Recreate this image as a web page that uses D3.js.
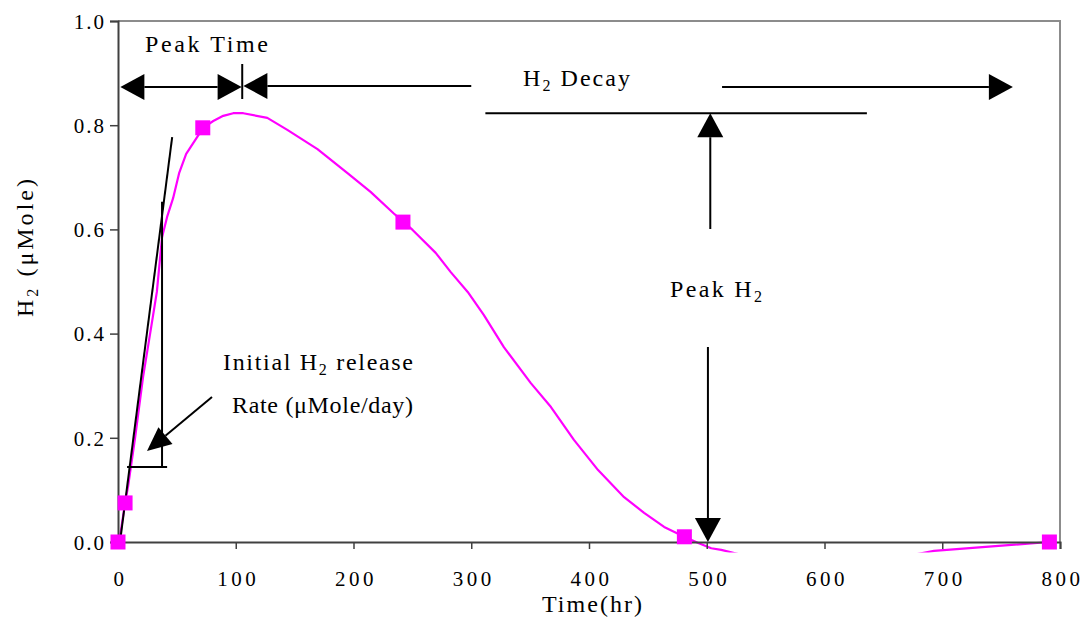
<!DOCTYPE html>
<html>
<head>
<meta charset="utf-8">
<script src="https://cdn.jsdelivr.net/npm/d3@7"></script>
<style>
  html, body { margin: 0; padding: 0; background: #ffffff; }
  svg { display: block; }
  text { font-family: "Liberation Serif", "Times New Roman", serif; fill: #000; }
</style>
</head>
<body>
<svg id="chart" width="1091" height="620"></svg>
<script>
// Hydrogen release curve: fitted smooth line (hours, µMole)
const curveHours = [0, 1.7, 6, 8.5, 14.5, 21.3, 28, 33, 37.4, 41.7, 46.8, 51.9, 57.9, 67.2, 72.3,
  80.9, 89.4, 97.9, 106.4, 126.8, 143.8, 169.4, 194.9, 214.5, 234, 242.6, 250.2, 269.8, 282.6,
  297, 310.6, 327.7, 350.6, 367.7, 387.2, 407.7, 429.8, 446.8, 463.8, 480.9, 492.8, 503.8, 512.3,
  530, 560, 600, 640, 670, 693, 745, 791];
const curveH2 = [0, 0.010, 0.075, 0.106, 0.200, 0.317, 0.41, 0.48, 0.585, 0.624, 0.660, 0.708, 0.745,
  0.777, 0.795, 0.808, 0.818, 0.823, 0.823, 0.814, 0.791, 0.754, 0.708, 0.672, 0.631, 0.614, 0.599,
  0.555, 0.518, 0.480, 0.436, 0.374, 0.305, 0.259, 0.196, 0.138, 0.086, 0.056, 0.029, 0.010, -0.002,
  -0.012, -0.015, -0.025, -0.035, -0.040, -0.037, -0.027, -0.017, -0.008, 0.0];

// Measured samples (square markers)
const sampleHours = [0, 6, 72, 242, 481, 791];
const sampleH2 = [0, 0.075, 0.795, 0.614, 0.010, 0.0];

// Axis ticks
const xTicks = [0, 100, 200, 300, 400, 500, 600, 700, 800];
const yTicks = [0.0, 0.2, 0.4, 0.6, 0.8, 1.0];

const svg = d3.select("#chart");
const x = d3.scaleLinear().domain([0, 800]).range([118, 1060]);
const y = d3.scaleLinear().domain([0, 1]).range([542, 21]);

const TICK_FS = 21;   // tick label font size
const FS = 24;        // annotation / title font size
const SUB_FS = 16;    // subscript size

// Plot frame: light top/right border
svg.append("path")
  .attr("d", `M${x(0)},${y(1)}H${x(800)}V${y(0)}`)
  .attr("fill", "none").attr("stroke", "#8c8c8c").attr("stroke-width", 2);

// Clip region for the curve (lets it dip a little below the axis)
svg.append("clipPath").attr("id", "plotClip")
  .append("rect")
  .attr("x", x(0) - 10).attr("y", y(1))
  .attr("width", x(800) - x(0) + 20).attr("height", y(-0.02) - y(1));

const curvePts = curveHours.map((h, i) => [h, curveH2[i]]);
const line = d3.line().x(d => x(d[0])).y(d => y(d[1]));
svg.append("path")
  .datum(curvePts)
  .attr("clip-path", "url(#plotClip)")
  .attr("d", line)
  .attr("fill", "none").attr("stroke", "#ff00ff").attr("stroke-width", 2.2)
  .attr("stroke-linejoin", "round");

// Axes
const xAxis = d3.axisBottom(x).tickValues(xTicks).tickSize(7).tickFormat(d3.format("d"));
const yAxis = d3.axisLeft(y).tickValues(yTicks).tickSize(8).tickFormat(d3.format(".1f"));

const gx = svg.append("g").attr("transform", `translate(0,${y(0)})`).call(xAxis);
const gy = svg.append("g").attr("transform", `translate(${x(0)},0)`).call(yAxis);
[gx, gy].forEach(g => {
  g.select(".domain").attr("stroke", "#404040").attr("stroke-width", 2);
  g.selectAll(".tick line").attr("stroke", "#404040").attr("stroke-width", 1.5);
  g.selectAll(".tick text")
    .attr("font-family", "Liberation Serif, Times New Roman, serif")
    .attr("font-size", TICK_FS).attr("fill", "#000");
});
gx.selectAll(".tick text").attr("dy", null).attr("y", 0).attr("dominant-baseline", "auto")
  .attr("letter-spacing", "3.5px")
  .attr("transform", "translate(2,44)");
gy.selectAll(".tick text").attr("x", -12).attr("dy", "0.35em").attr("letter-spacing", "2px");

// Tangent construction for the initial release rate
svg.append("line")
  .attr("x1", x(1.7)).attr("y1", y(0)).attr("x2", x(46)).attr("y2", y(0.777))
  .attr("stroke", "#000").attr("stroke-width", 2);
svg.append("line")
  .attr("x1", x(37.4)).attr("y1", y(0.653)).attr("x2", x(37.4)).attr("y2", y(0.144))
  .attr("stroke", "#000").attr("stroke-width", 2);
svg.append("line")
  .attr("x1", x(7.7)).attr("y1", y(0.144)).attr("x2", x(41.7)).attr("y2", y(0.144))
  .attr("stroke", "#000").attr("stroke-width", 2);

// Sample markers
svg.append("g").selectAll("rect")
  .data(sampleHours.map((h, i) => [h, sampleH2[i]]))
  .join("rect")
  .attr("x", d => x(d[0]) - 7.5).attr("y", d => y(d[1]) - 7.5)
  .attr("width", 15).attr("height", 15)
  .attr("fill", "#ff00ff");

// Arrow helper: shaft from (x1,y1) to tip (x2,y2) with a filled triangular head
function arrow(x1, y1, x2, y2, headLen = 24, headW = 13) {
  const dx = x2 - x1, dy = y2 - y1, L = Math.hypot(dx, dy);
  const ux = dx / L, uy = dy / L, px = -uy, py = ux;
  const bx = x2 - ux * headLen, by = y2 - uy * headLen;
  svg.append("line").attr("x1", x1).attr("y1", y1).attr("x2", bx).attr("y2", by)
    .attr("stroke", "#000").attr("stroke-width", 2);
  svg.append("path")
    .attr("d", `M${x2},${y2}L${bx + px * headW},${by + py * headW}L${bx - px * headW},${by - py * headW}Z`)
    .attr("fill", "#000");
}

const arrowY = 87;
// Peak time: double arrow between start and peak
arrow(x(52), arrowY, x(2), arrowY);
arrow(x(50), arrowY, x(105), arrowY);
svg.append("line").attr("x1", x(105.5)).attr("y1", 64).attr("x2", x(105.5)).attr("y2", 99)
  .attr("stroke", "#000").attr("stroke-width", 2);
// H2 decay arrows
arrow(x(300), 86, x(106.5), 86);
arrow(x(513), arrowY, x(760), arrowY);

// Peak H2 level and arrows
svg.append("line").attr("x1", x(312)).attr("y1", y(0.823)).attr("x2", x(636)).attr("y2", y(0.823))
  .attr("stroke", "#000").attr("stroke-width", 2);
arrow(x(503), 229, x(503), y(0.823));
arrow(x(501), 347, x(501), y(0));

// Initial rate pointer
arrow(212, 397, 147, 451, 24, 11);

// Text labels with optional subscript "2"; the run is spread to a set width
function label(xp, yp, parts, width, anchor = "start") {
  const t = svg.append("text").attr("x", xp).attr("y", yp)
    .attr("font-size", FS).attr("text-anchor", anchor)
    .attr("textLength", width).attr("lengthAdjust", "spacing");
  parts.forEach(p => {
    if (typeof p === "string") t.append("tspan").text(p);
    else {
      t.append("tspan").attr("font-size", SUB_FS).attr("dy", 5).text(p.sub);
      t.append("tspan").attr("dy", -5).text(p.after || "");
    }
  });
  return t;
}

label(145, 52, ["Peak Time"], 123);
label(523, 86, ["H", { sub: "2", after: " Decay" }], 107);
label(670, 297, ["Peak H", { sub: "2" }], 92);
label(223, 370, ["Initial H", { sub: "2", after: " release" }], 190);
label(232, 413, ["Rate (μMole/day)"], 181);

// Axis titles
label(592, 612, ["Time(hr)"], 100, "middle");
label(0, 0, ["H", { sub: "2", after: " (μMole)" }], 138, "middle")
  .attr("transform", "translate(33,248) rotate(-90)");
</script>
</body>
</html>
